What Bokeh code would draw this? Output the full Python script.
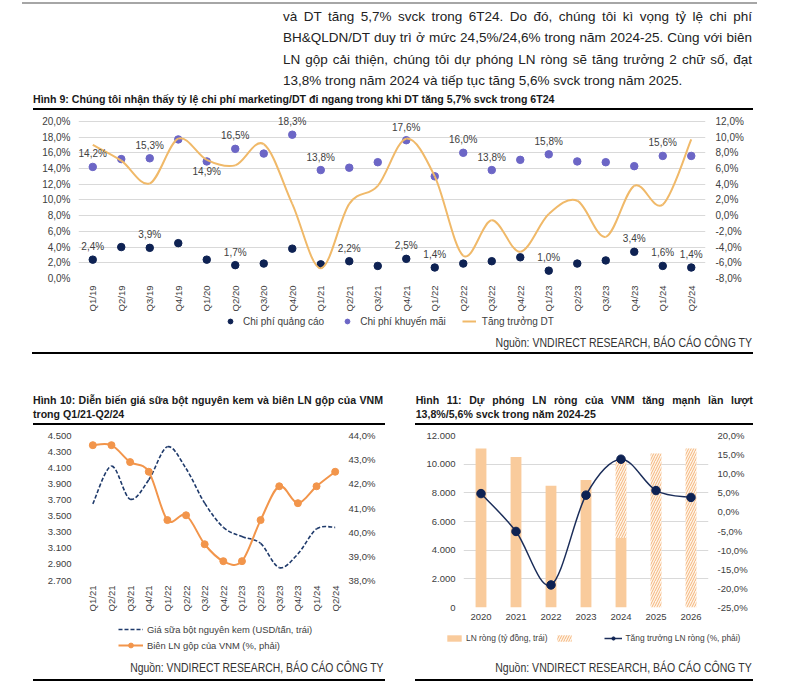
import math
from bokeh.plotting import figure
from bokeh.models import (Range1d, LinearAxis, FixedTicker, ColumnDataSource, LabelSet,
                          Legend, LegendItem, Div)
from bokeh.layouts import column, row
from bokeh.embed import file_html
from bokeh.resources import INLINE
from bokeh.core.properties import value

# ---------------- data: Hình 9 ----------------
quarters9 = ["Q1/19", "Q2/19", "Q3/19", "Q4/19", "Q1/20", "Q2/20", "Q3/20", "Q4/20",
             "Q1/21", "Q2/21", "Q3/21", "Q4/21", "Q1/22", "Q2/22", "Q3/22", "Q4/22",
             "Q1/23", "Q2/23", "Q3/23", "Q4/23", "Q1/24", "Q2/24"]
chi_phi_quang_cao = [2.4, 4.0, 3.9, 4.5, 2.4, 1.7, 1.9, 3.8, 1.8, 2.2, 1.6, 2.5,
                     1.4, 1.9, 2.2, 2.7, 1.0, 1.9, 2.3, 3.4, 1.6, 1.4]
chi_phi_khuyen_mai = [14.2, 15.2, 15.3, 17.7, 14.9, 16.5, 15.9, 18.3, 13.8, 14.1, 14.8, 17.6,
                      13.0, 16.0, 13.8, 15.1, 15.8, 14.9, 14.8, 14.3, 15.6, 15.6]
tang_truong_dt = [9.0, 7.0, 4.1, 9.8, 7.1, 6.4, 9.1, 1.5, -6.7, 1.5, 3.8, 9.8,
                  5.0, -5.1, -0.6, -4.6, 0.2, 1.9, -2.7, 3.8, 1.4, 9.7]
km_labeled_above = ["Q1/19", "Q3/19", "Q2/20", "Q4/20", "Q1/21", "Q4/21", "Q2/22", "Q3/22", "Q1/23", "Q1/24"]
km_labeled_below = ["Q1/20"]
qc_labeled_above = ["Q1/19", "Q3/19", "Q2/20", "Q2/21", "Q4/21", "Q1/22", "Q1/23", "Q4/23", "Q1/24", "Q2/24"]
ticks9_left = [0, 2, 4, 6, 8, 10, 12, 14, 16, 18, 20]
ticks9_right = [-8, -6, -4, -2, 0, 2, 4, 6, 8, 10, 12]

# ---------------- data: Hình 10 ----------------
quarters10 = ["Q1/21", "Q2/21", "Q3/21", "Q4/21", "Q1/22", "Q2/22", "Q3/22", "Q4/22",
              "Q1/23", "Q2/23", "Q3/23", "Q4/23", "Q1/24", "Q2/24"]
gia_sua_bot = [3650, 4120, 3710, 3950, 4360, 4090, 3660, 3360, 3245, 3160, 2860, 3030, 3340, 3360]
bien_ln_gop = [43.6, 43.6, 42.9, 42.5, 40.5, 40.7, 39.5, 38.8, 38.8, 40.5, 41.9, 41.2, 41.9, 42.5]
ticks10_left = [2700, 2900, 3100, 3300, 3500, 3700, 3900, 4100, 4300, 4500]
ticks10_right = [38, 39, 40, 41, 42, 43, 44]

# ---------------- data: Hình 11 ----------------
years11 = ["2020", "2021", "2022", "2023", "2024", "2025", "2026"]
ln_rong_thuc_te = [11100, 10500, 8500, 8900, 4850, 0, 0]
ln_rong_du_phong = [0, 0, 0, 0, 10200, 10750, 11100]
tang_truong_ln = [4.8, -5.1, -19.1, 4.4, 13.8, 5.6, 3.8]
ticks11_left = [0, 2000, 4000, 6000, 8000, 10000, 12000]
ticks11_right = [-25, -20, -15, -10, -5, 0, 5, 10, 15, 20]

# ---------------- style ----------------
SANS = "'Liberation Sans', Arial, sans-serif"
GRID = "#D9D9D9"
TXT = "#404040"
NAVY = "#0E2253"
PURPLE = "#6C66C6"
TAN = "#F0B969"
ORANGE = "#F2954B"
PEACH = "#F9CB9C"
NAN = [float("nan")]  # legend-key proxies: never drawn in the plot area


def vn_pct(v):
    return f"{v:.1f}".replace(".", ",") + "%"


def vn_num(v):
    return f"{v:,.0f}".replace(",", ".")


def smooth(xs, ys):
    n = len(xs)
    d = dict(x0=[], y0=[], x1=[], y1=[], cx0=[], cy0=[], cx1=[], cy1=[])
    for i in range(n - 1):
        a = max(i - 1, 0)
        b = min(i + 2, n - 1)
        d["x0"].append(xs[i]); d["y0"].append(ys[i])
        d["x1"].append(xs[i + 1]); d["y1"].append(ys[i + 1])
        d["cx0"].append(xs[i] + (xs[i + 1] - xs[a]) / 6)
        d["cy0"].append(ys[i] + (ys[i + 1] - ys[a]) / 6)
        d["cx1"].append(xs[i + 1] - (xs[b] - xs[i]) / 6)
        d["cy1"].append(ys[i + 1] - (ys[b] - ys[i]) / 6)
    return ColumnDataSource(d)


def make_fig(width, height, nx, y0, y1, bl, br, bt, bb):
    p = figure(width=width, height=height, x_range=Range1d(0, nx), y_range=Range1d(y0, y1),
               output_backend="svg", toolbar_location=None,
               min_border_left=bl, min_border_right=br, min_border_top=bt, min_border_bottom=bb,
               outline_line_color=None, background_fill_color="white", border_fill_color="white")
    p.xgrid.visible = False
    return p


def legend_fig(width, height):
    p = figure(width=width, height=height, x_range=Range1d(0, 1), y_range=Range1d(0, 1),
               output_backend="svg", toolbar_location=None, min_border=0,
               x_axis_location=None, y_axis_location=None, outline_line_color=None,
               background_fill_color="white", border_fill_color="white")
    p.grid.visible = False
    return p


def style_axis(ax, ticks, labels, size, standoff):
    ax.ticker = FixedTicker(ticks=ticks)
    ax.major_label_overrides = dict(zip(ticks, labels))
    ax.axis_line_color = None
    ax.major_tick_line_color = None
    ax.minor_tick_line_color = None
    ax.major_tick_out = 0
    ax.major_tick_in = 0
    ax.major_label_standoff = standoff
    ax.major_label_text_font = SANS
    ax.major_label_text_font_size = size
    ax.major_label_text_color = TXT


def style_legend(lg, size, gw, gh, lh, standoff, spacing):
    lg.label_text_font = SANS
    lg.label_text_font_size = size
    lg.label_text_color = TXT
    lg.glyph_width = gw
    lg.glyph_height = gh
    lg.label_height = lh
    lg.label_standoff = standoff
    lg.spacing = spacing
    lg.padding = 0
    lg.margin = 0
    lg.border_line_color = None
    lg.background_fill_alpha = 0


def box(w, h, inner):
    return Div(text=f'<div style="position:relative;width:{w}px;height:{h}px;overflow:hidden;">{inner}</div>',
               width=w, height=h, margin=0)


def rule(left, top, width, h=2, color="#000"):
    return f'<div style="position:absolute;left:{left}px;top:{top}px;width:{width}px;height:{h}px;background:{color};"></div>'


def txt(left, top, width, text, size, weight="normal", align="left", last="auto", color="#1a1a1a", lh=14, sx=1.0):
    inner_w = width / sx
    origin = "right top" if align == "right" else "left top"
    shift = width - inner_w if align == "right" else 0
    return (f'<div style="position:absolute;left:{left + shift}px;top:{top}px;width:{inner_w}px;white-space:nowrap;'
            f'font-family:{SANS};font-size:{size}px;font-weight:{weight};line-height:{lh}px;color:{color};'
            f'text-align:{align};text-align-last:{last};transform:scaleX({sx});transform-origin:{origin};">{text}</div>')


SOURCE = "Nguồn: VNDIRECT RESEARCH, BÁO CÁO CÔNG TY"

# ---------------- top paragraph ----------------
para = ["và DT tăng 5,7% svck trong 6T24. Do đó, chúng tôi kì vọng tỷ lệ chi phí",
        "BH&amp;QLDN/DT duy trì ở mức 24,5%/24,6% trong năm 2024-25. Cùng với biên",
        "LN gộp cải thiện, chúng tôi dự phóng LN ròng sẽ tăng trưởng 2 chữ số, đạt",
        "13,8% trong năm 2024 và tiếp tục tăng 5,6% svck trong năm 2025."]
top_html = rule(22, 2, 735, 2, "#A6A6A6")
for i, line in enumerate(para):
    top_html += txt(283, 7 + i * 21.3, 469, line, 13.5, align="justify",
                    last=("justify" if i < 3 else "left"), color="#222", lh=20)
top_div = box(787, 90, top_html)

title9 = box(787, 20, txt(33, 3, 740,
             "Hình 9: Chúng tôi nhận thấy tỷ lệ chi phí marketing/DT đi ngang trong khi DT tăng 5,7% svck trong 6T24",
             10.6, weight="bold", lh=12) + rule(33, 18, 720, 2))

# ---------------- figure 9 ----------------
x9 = [i + 0.5 for i in range(len(quarters9))]
p9 = make_fig(787, 204, len(quarters9), 0, 21, 78, 82, 3, 36)
p9.extra_y_ranges = {"right": Range1d(-8, 13)}
p9.add_layout(LinearAxis(y_range_name="right"), "right")
style_axis(p9.yaxis[0], ticks9_left, [vn_pct(v) for v in ticks9_left], "10px", 8)
style_axis(p9.yaxis[1], ticks9_right, [vn_pct(v) for v in ticks9_right], "10px", 10)
style_axis(p9.xaxis[0], x9, quarters9, "9.5px", 7)
p9.xaxis[0].major_label_orientation = math.pi / 2
p9.ygrid.ticker = FixedTicker(ticks=ticks9_left)
p9.ygrid.grid_line_color = GRID

p9.scatter(x9, chi_phi_quang_cao, marker="circle", size=7.5, color=NAVY)
p9.scatter(x9, chi_phi_khuyen_mai, marker="circle", size=7.5, color=PURPLE)
p9.bezier(x0="x0", y0="y0", x1="x1", y1="y1", cx0="cx0", cy0="cy0", cx1="cx1", cy1="cy1",
          source=smooth(x9, tang_truong_dt), y_range_name="right", line_color=TAN, line_width=2)


def label_src(names, series, xs):
    idx = [quarters9.index(n) for n in names]
    return ColumnDataSource(dict(x=[xs[i] for i in idx], y=[series[i] for i in idx],
                                 t=[vn_pct(series[i]) for i in idx]))


for names, series, off in [(km_labeled_above, chi_phi_khuyen_mai, 13), (km_labeled_below, chi_phi_khuyen_mai, -10),
                           (qc_labeled_above, chi_phi_quang_cao, 13)]:
    p9.add_layout(LabelSet(x="x", y="y", text="t", source=label_src(names, series, x9), y_offset=off,
                           text_align="center", text_baseline="middle", text_font=value(SANS),
                           text_font_size="10px", text_color=TXT))

# legend strip 9 (its frame lines up with the plot frame above: 78..705)
l9 = legend_fig(787, 14)
k_qc = l9.scatter(NAN, NAN, marker="circle", size=7, color=NAVY)
k_km = l9.scatter(NAN, NAN, marker="circle", size=7, color=PURPLE)
k_dt = l9.line(NAN, NAN, line_color=TAN, line_width=2)
lg9 = Legend(items=[LegendItem(label="Chi phí quảng cáo", renderers=[k_qc]),
                    LegendItem(label="Chi phí khuyến mãi", renderers=[k_km]),
                    LegendItem(label="Tăng trưởng DT", renderers=[k_dt])],
             orientation="horizontal", location=(145, 1))
style_legend(lg9, "10px", 14, 12, 12, 6, 16)
l9.add_layout(lg9)

src9 = box(787, 29, txt(300, 8, 452, SOURCE, 13, align="right", color="#333", sx=0.81)
           + rule(32, 24, 721, 1.5))

# ---------------- figure 10 ----------------
x10 = [i + 0.5 for i in range(len(quarters10))]
title10 = box(395, 69, txt(33, 36, 350, "Hình 10: Diễn biến giá sữa bột nguyên kem và biên LN gộp của VNM",
                           10.6, weight="bold", align="justify", last="justify", lh=14)
              + txt(33, 50, 350, "trong Q1/21-Q2/24", 10.6, weight="bold", lh=14)
              + rule(33, 66, 352, 2))
p10 = make_fig(395, 188, len(quarters10), 2700, 4500, 83, 51, 9, 32)
p10.extra_y_ranges = {"right": Range1d(38, 44)}
p10.add_layout(LinearAxis(y_range_name="right"), "right")
style_axis(p10.yaxis[0], ticks10_left, [vn_num(v) for v in ticks10_left], "9.5px", 12)
style_axis(p10.yaxis[1], ticks10_right, [vn_pct(v) for v in ticks10_right], "9.5px", 4)
style_axis(p10.xaxis[0], x10, quarters10, "9.5px", 5)
p10.xaxis[0].major_label_orientation = math.pi / 2
p10.ygrid.visible = False

p10.bezier(x0="x0", y0="y0", x1="x1", y1="y1", cx0="cx0", cy0="cy0", cx1="cx1", cy1="cy1",
           source=smooth(x10, gia_sua_bot), line_color="#1F3A6B", line_width=1.6, line_dash="4 2")
p10.bezier(x0="x0", y0="y0", x1="x1", y1="y1", cx0="cx0", cy0="cy0", cx1="cx1", cy1="cy1",
           source=smooth(x10, bien_ln_gop), y_range_name="right", line_color=ORANGE, line_width=2)
p10.scatter(x10, bien_ln_gop, y_range_name="right", marker="circle", size=7, color=ORANGE)

l10 = legend_fig(395, 37)
k_milk = l10.line(NAN, NAN, line_color="#1F3A6B", line_width=1.6, line_dash="4 2")
k_gm_l = l10.line(NAN, NAN, line_color=ORANGE, line_width=2)
k_gm_p = l10.scatter(NAN, NAN, marker="circle", size=7, color=ORANGE)
lg10 = Legend(items=[LegendItem(label="Giá sữa bột nguyên kem (USD/tấn, trái)", renderers=[k_milk]),
                     LegendItem(label="Biên LN gộp của VNM (%, phải)", renderers=[k_gm_l, k_gm_p])],
              orientation="vertical", location=(35, 0))
style_legend(lg10, "9.4px", 25, 12, 12, 4, 4)
l10.add_layout(lg10)
src10 = box(395, 38, txt(33, 10, 350, SOURCE, 13, align="right", color="#333", sx=0.8)
            + rule(33, 28, 352, 1.5))

# ---------------- figure 11 ----------------
x11 = [i + 0.5 for i in range(len(years11))]
title11 = box(392, 69, txt(20.7, 36, 337, "Hình 11: Dự phóng LN ròng của VNM tăng mạnh lần lượt",
                           10.6, weight="bold", align="justify", last="justify", lh=14)
              + txt(20.7, 50, 337, "13,8%/5,6% svck trong năm 2024-25", 10.6, weight="bold", lh=14)
              + rule(20, 66, 338, 2))
p11 = make_fig(392, 204, len(years11), 0, 12000, 68, 79, 9, 23)
p11.extra_y_ranges = {"right": Range1d(-25, 20)}
p11.add_layout(LinearAxis(y_range_name="right"), "right")
style_axis(p11.yaxis[0], ticks11_left, [vn_num(v) for v in ticks11_left], "9.5px", 8)
style_axis(p11.yaxis[1], ticks11_right, [vn_pct(v) for v in ticks11_right], "9.5px", 9)
style_axis(p11.xaxis[0], x11, years11, "9.5px", 6)
p11.ygrid.ticker = FixedTicker(ticks=ticks11_left)
p11.ygrid.grid_line_color = GRID

act_idx = [i for i, v in enumerate(ln_rong_thuc_te) if v > 0]
fc_idx = [i for i, v in enumerate(ln_rong_du_phong) if v > 0]
HATCH = dict(fill_color="#FFF4E8", line_color=None, hatch_pattern="right_diagonal_line",
             hatch_color="#F3B57C", hatch_scale=5, hatch_weight=1)
p11.vbar(x=[x11[i] for i in act_idx], top=[ln_rong_thuc_te[i] for i in act_idx], width=0.31,
         fill_color=PEACH, line_color=None)
p11.vbar(x=[x11[i] for i in fc_idx], bottom=[ln_rong_thuc_te[i] for i in fc_idx],
         top=[ln_rong_du_phong[i] for i in fc_idx], width=0.31, **HATCH)
p11.bezier(x0="x0", y0="y0", x1="x1", y1="y1", cx0="cx0", cy0="cy0", cx1="cx1", cy1="cy1",
           source=smooth(x11, tang_truong_ln), y_range_name="right", line_color="#1C2E5A", line_width=1.5)
p11.scatter(x11, tang_truong_ln, y_range_name="right", marker="circle", size=8.5, color=NAVY)

l11 = legend_fig(392, 21)
k_act = l11.vbar(x=NAN, top=NAN, width=0.3, fill_color=PEACH, line_color=None)
k_fc = l11.vbar(x=NAN, top=NAN, width=0.3, **HATCH)
k_gr_l = l11.line(NAN, NAN, line_color="#1C2E5A", line_width=1.5)
k_gr_p = l11.scatter(NAN, NAN, marker="circle", size=7, color=NAVY)
lg11 = Legend(items=[LegendItem(label="LN ròng (tỷ đồng, trái)", renderers=[k_act]),
                     LegendItem(label=" ", renderers=[k_fc]),
                     LegendItem(label="Tăng trưởng LN ròng (%, phải)", renderers=[k_gr_l, k_gr_p])],
              orientation="horizontal", location=(50, 8))
style_legend(lg11, "8.4px", 18, 8, 10, 3, 8)
l11.add_layout(lg11)
src11 = box(392, 38, txt(0, 10, 357, SOURCE, 13, align="right", color="#333", sx=0.81)
            + rule(20, 28, 338, 1.5))

layout = column(top_div, title9, p9, l9, src9,
                row(column(title10, p10, l10, src10, spacing=0),
                    column(title11, p11, row(l11), src11, spacing=0), spacing=0),
                spacing=0)

open("out.html", "w").write(file_html(layout, INLINE))
